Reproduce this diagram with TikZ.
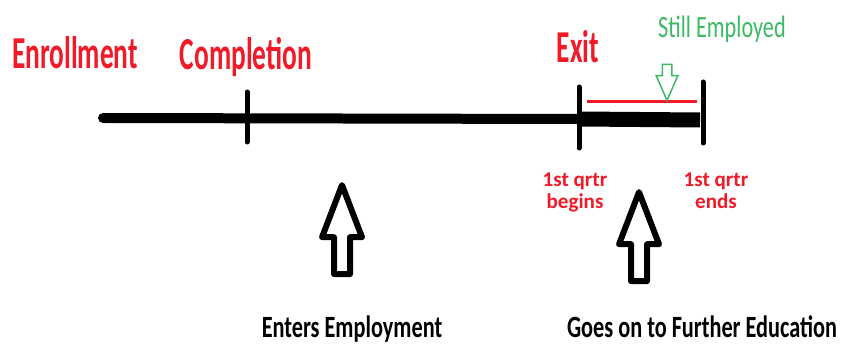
\documentclass[tikz,border=0pt]{standalone}
\usepackage{fontspec}
\setmainfont{Carlito}
\newfontfamily\bigcond[FakeStretch=0.6]{Carlito}
\newfontfamily\midcond[FakeStretch=0.72]{Carlito}
\usetikzlibrary{shapes.arrows}
\definecolor{labelred}{RGB}{240,26,40}
\definecolor{stillgreen}{RGB}{60,185,100}
\tikzset{
  bigred/.style={inner sep=0, anchor=base, text=labelred, font=\bigcond\bfseries\fontsize{26}{28}\selectfont},
  smallred/.style={inner sep=0, anchor=north, align=center, text=labelred, font=\bfseries\fontsize{12}{13}\selectfont},
  greenlabel/.style={inner sep=0, anchor=base, text=stillgreen, font=\midcond\fontsize{17.6}{19}\selectfont},
  blacklabel/.style={inner sep=0, anchor=base, font=\midcond\bfseries\fontsize{17.6}{19}\selectfont},
  hollowarrow/.style={draw, line width=0.12cm, line join=round, single arrow, rotate=90, inner sep=0.1cm,
    single arrow head extend=0.24cm, single arrow tip angle=42, minimum height=1.78cm},
}

\begin{document}
\begin{tikzpicture}[x=0.02cm, y=-0.02cm]
  \useasboundingbox (0,0) rectangle (847,347);

  % time line
  \coordinate (start) at (103,118);
  \coordinate (comp) at (247,118);
  \coordinate (ex) at (579,119);
  \coordinate (fin) at (703,120);
  \draw[line width=0.2cm, line cap=round] (start) -- (ex);
  \draw[line width=0.3cm] (ex) -- ([xshift=-0.06cm]fin);
  \draw[line width=0.1cm, line cap=round] (comp) ++(0,-26) -- ++(0,50);
  \draw[line width=0.1cm, line cap=round] (ex) ++(0,-32) -- ++(0,61);
  \draw[line width=0.1cm, line cap=round] (fin) ++(0,-38) -- ++(0,61);
  \draw[labelred, line width=0.06cm] (587,102) -- (697,102);

  % labels
  \node[bigred] (enroll) at (75,69) {Enrollment};
  \node[bigred] (compl) at (246,70) {Completion};
  \node[bigred] (exit) at (578,63) {Exit};
  \node[greenlabel] (still) at (722,38) {Still Employed};
  \node[smallred] (qbeg) at (575,172) {1st qrtr\\begins};
  \node[smallred] (qend) at (716,172) {1st qrtr\\ends};

  % arrows
  \node[draw=stillgreen, line width=0.03cm, single arrow, rotate=-90, inner sep=0.08cm,
    single arrow head extend=0.12cm, single arrow tip angle=47, minimum height=0.72cm] (stillArrow) at (667,77) {};
  \node[hollowarrow] (empArrow) at (342,240) {};
  \node[hollowarrow] (eduArrow) at (639,247) {};

  \node[blacklabel] (enters) at (352,337) {Enters Employment};
  \node[blacklabel] (further) at (702,337) {Goes on to Further Education};
\end{tikzpicture}
\end{document}
